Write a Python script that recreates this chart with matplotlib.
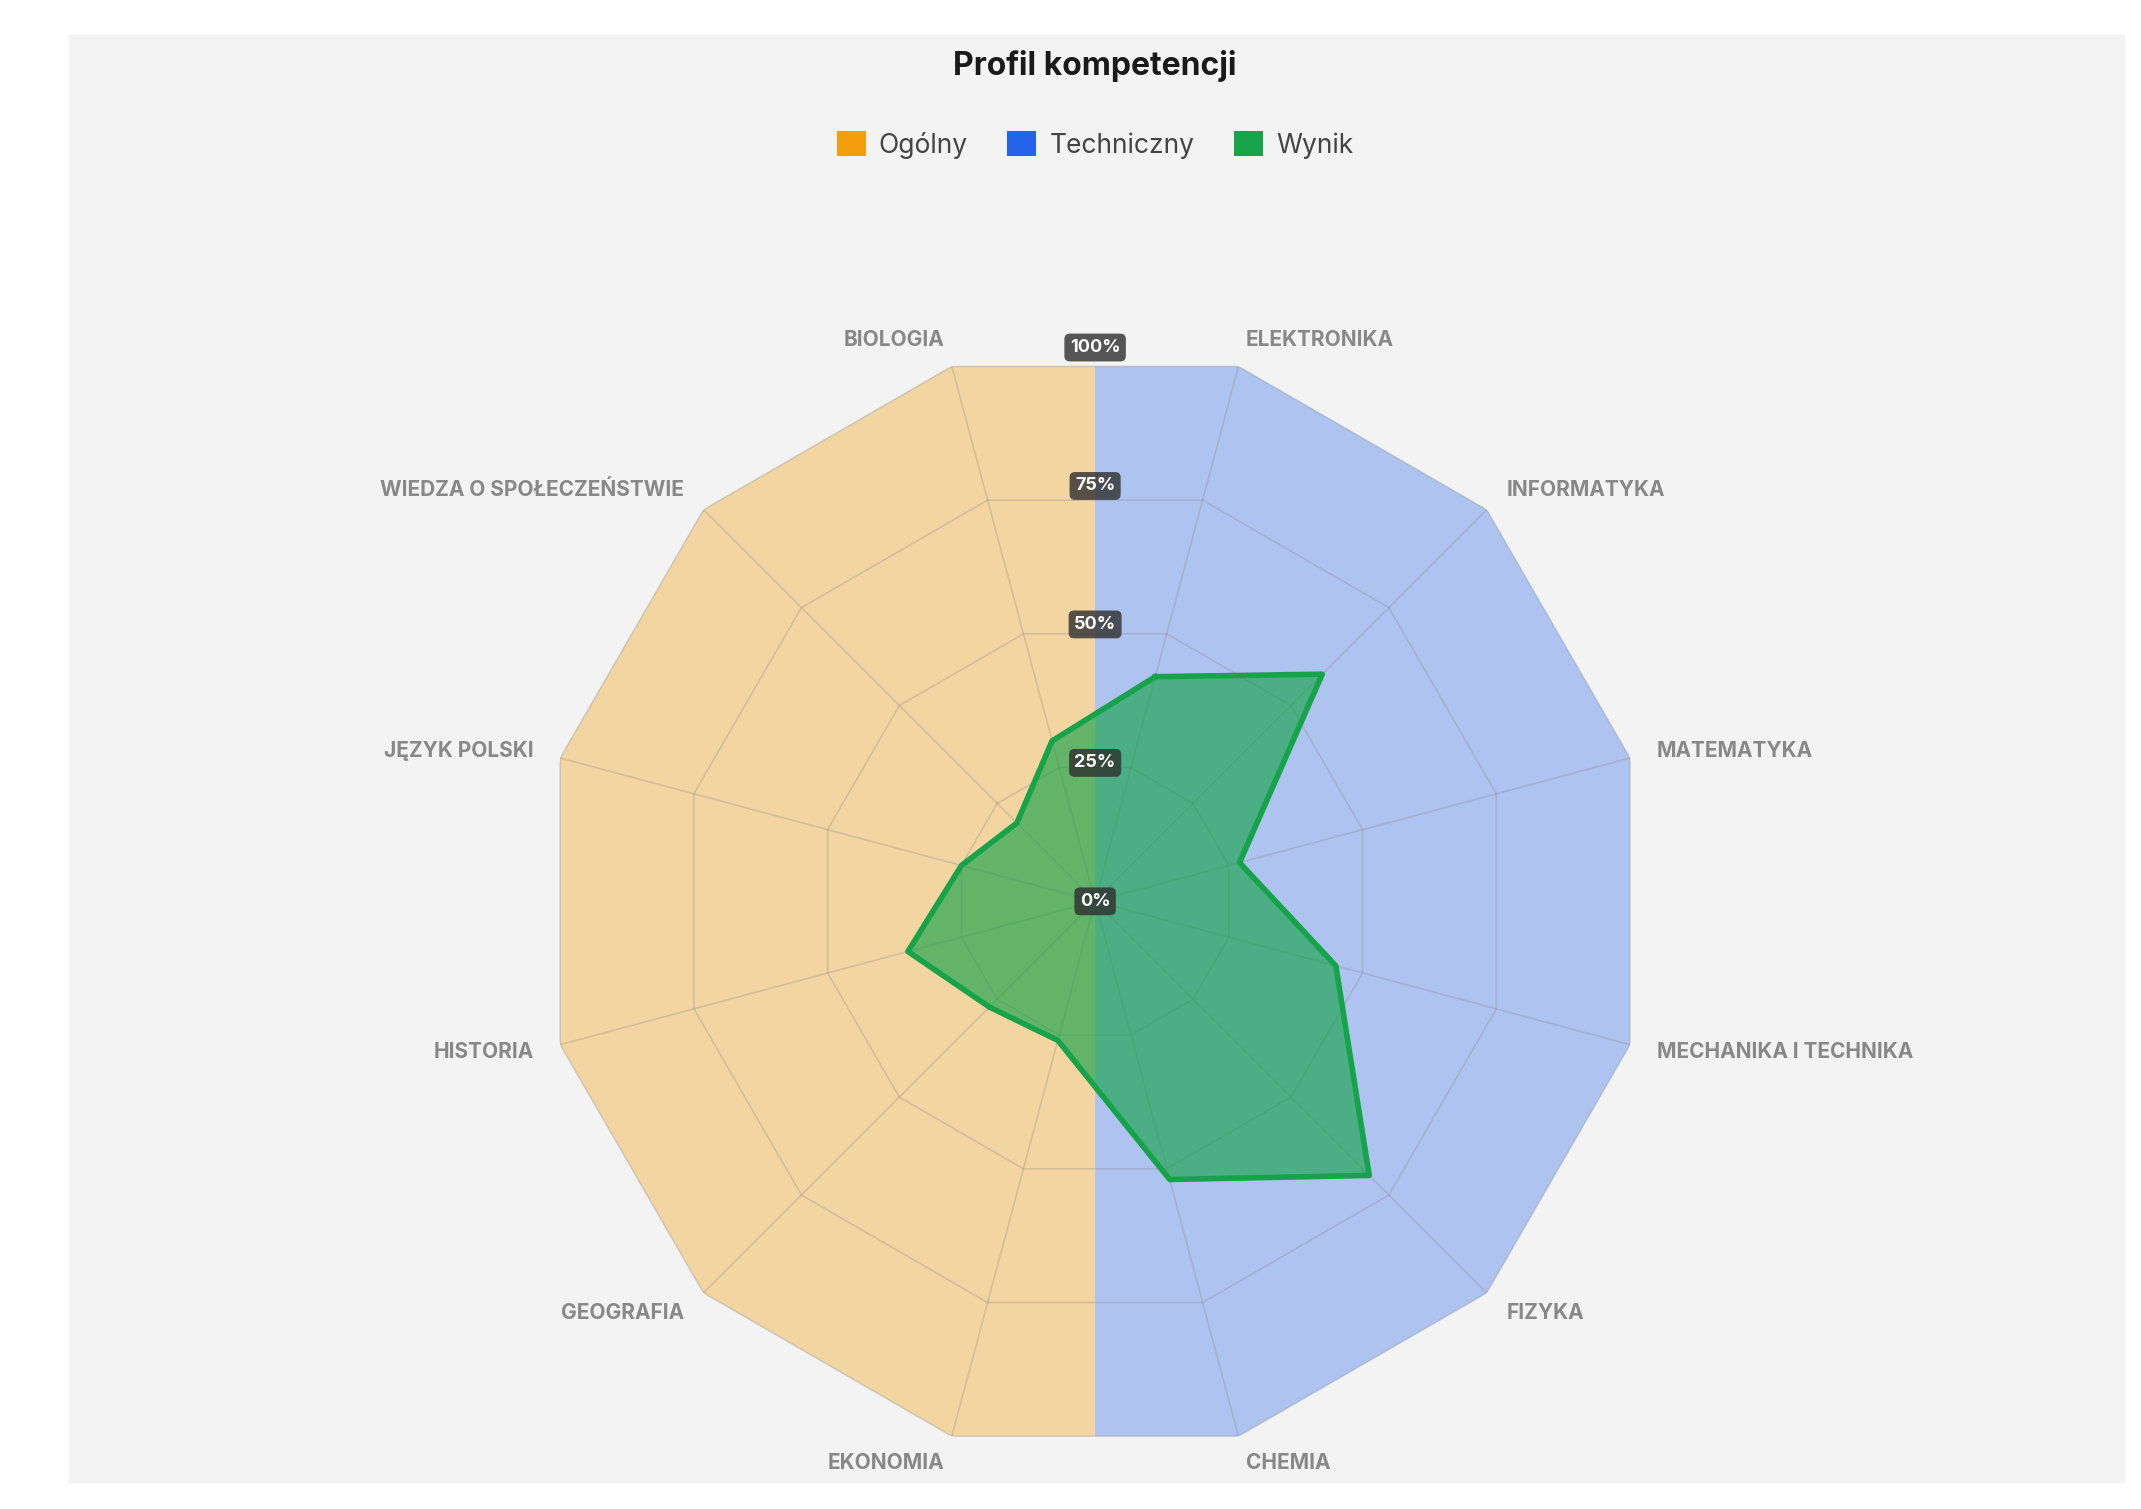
import numpy as np
import matplotlib
matplotlib.use("Agg")
import matplotlib.pyplot as plt
from matplotlib.patches import Patch, FancyBboxPatch

plt.rcParams['font.family'] = ['Inter', 'DejaVu Sans']

categories = ["ELEKTRONIKA", "INFORMATYKA", "MATEMATYKA", "MECHANIKA I TECHNIKA", "FIZYKA", "CHEMIA",
              "EKONOMIA", "GEOGRAFIA", "HISTORIA", "JĘZYK POLSKI", "WIEDZA O SPOŁECZEŃSTWIE", "BIOLOGIA"]
wynik = [42, 58, 27, 45, 70, 52, 26, 27, 35, 25, 20, 30]
ogolny_max = 100
techniczny_max = 100
ticks = [0, 25, 50, 75, 100]
tick_labels = ["0%", "25%", "50%", "75%", "100%"]

ORANGE, BLUE, GREEN = "#f59e0b", "#2563eb", "#16a34a"

fig = plt.figure(figsize=(21.41, 15.09), dpi=100)
fig.patches.append(plt.Rectangle((0.032, 0.018), 0.96, 0.959, transform=fig.transFigure,
                                 color="#f3f3f3", zorder=-10))

ax = fig.add_axes([0.2528, 0.0357, 0.5174, 0.734], projection="polar")
ax.set_facecolor("none")
ax.set_theta_zero_location("N")
ax.set_theta_direction(-1)
ax.set_ylim(0, 100)
ax.grid(False)
ax.spines["polar"].set_visible(False)
ax.set_xticks([]); ax.set_yticks([])

n = len(categories)
ang = np.deg2rad(15 + 30 * np.arange(n))
c15 = np.cos(np.deg2rad(15))

# background halves
tech = ang[:6]; gen = ang[6:]
th_o = np.concatenate([[np.pi, np.pi], gen, [2 * np.pi]])
r_o = np.concatenate([[0, ogolny_max * c15], [ogolny_max] * 6, [ogolny_max * c15]])
ax.fill(np.append(th_o, 0), np.append(r_o, 0), color=ORANGE, alpha=0.35, lw=0, zorder=1)
th_b = np.concatenate([[0, 0], tech, [np.pi]])
r_b = np.concatenate([[0, techniczny_max * c15], [techniczny_max] * 6, [techniczny_max * c15]])
ax.fill(np.append(th_b, np.pi), np.append(r_b, 0), color=BLUE, alpha=0.33, lw=0, zorder=1)

# grid
for t in ticks[1:]:
    ax.plot(np.append(ang, ang[0]), [t] * (n + 1), color="#8a8a8a", alpha=0.3, lw=1.2, zorder=2)
for a in ang:
    ax.plot([a, a], [0, 100], color="#8a8a8a", alpha=0.3, lw=1.2, zorder=2)

# data
ax.fill(np.append(ang, ang[0]), wynik + [wynik[0]], color=GREEN, alpha=0.65, lw=0, zorder=3)
ax.plot(np.append(ang, ang[0]), wynik + [wynik[0]], color=GREEN, lw=4, zorder=4)

# labels
for a, c in zip(ang, categories):
    ha = "left" if np.sin(a) > 0 else "right"
    ax.text(a, 105, c, ha=ha, va="center", fontsize=15, fontweight="bold", color="#888888", zorder=5)

for t, lab in zip(ticks, tick_labels):
    ax.text(0, t, lab, ha="center", va="center", fontsize=13, fontweight="bold", color="white", zorder=6,
            bbox=dict(boxstyle="round,pad=0.3,rounding_size=0.3", fc="#2e2e2e", ec="none", alpha=0.8))

fig.text(0.5115, 0.956, "Profil kompetencji", ha="center", va="center", fontsize=23, fontweight="bold",
         color="#1a1a1a")
handles = [Patch(facecolor=ORANGE, edgecolor="none", label="Ogólny"),
           Patch(facecolor=BLUE, edgecolor="none", label="Techniczny"),
           Patch(facecolor=GREEN, edgecolor="none", label="Wynik")]
leg = fig.legend(handles=handles, loc="center", bbox_to_anchor=(0.5115, 0.904), ncol=3, frameon=False,
                 fontsize=19, handlelength=1.1, handleheight=1.1, handletextpad=0.5, columnspacing=1.5,
                 labelcolor="#444444")

fig.savefig("out.png", dpi=100, facecolor="white")
